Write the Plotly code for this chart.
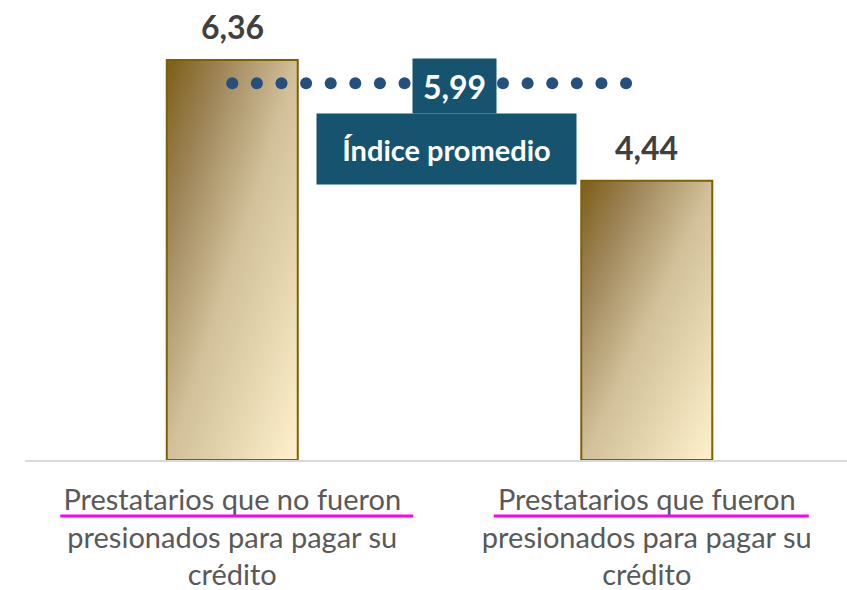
import numpy as np
import plotly.graph_objects as go

# --- data -------------------------------------------------------------
categories = [
    "Prestatarios que no fueron<br>presionados para pagar su<br>crédito",
    "Prestatarios que fueron<br>presionados para pagar su<br>crédito",
]
values = [6.36, 4.44]
average_value = 5.99
average_label = "Índice promedio"

# --- styling ----------------------------------------------------------
bar_width = 0.316
gold_scale = [[0.0, "#7c5e17"], [0.22, "#9f865a"], [0.5, "#d1c099"], [1.0, "#fff2cd"]]
edge_color = "#7f6000"
teal = "#15536f"
dot_color = "#254f7c"
label_font = "Lato"


def fmt(v):
    return f"{v:.2f}".replace(".", ",")


fig = go.Figure()

# gradient fill for each bar (dark top-left -> light bottom-right)
nx, ny = 16, 60
for i, v in enumerate(values):
    xe = np.linspace(i - bar_width / 2, i + bar_width / 2, nx + 1)
    ye = np.linspace(0, v, ny + 1)
    u = (np.arange(nx) + 0.5) / nx
    t = 1 - (np.arange(ny) + 0.5) / ny
    z = (u[None, :] + t[:, None]) / 2
    fig.add_trace(go.Heatmap(
        x=xe, y=ye, z=z, zmin=0, zmax=1, colorscale=gold_scale,
        showscale=False, zsmooth="best", hoverinfo="skip",
    ))

# bar outlines
fig.add_trace(go.Bar(
    x=list(range(len(values))), y=values, width=bar_width,
    marker=dict(color="rgba(0,0,0,0)", line=dict(color=edge_color, width=2)),
    hoverinfo="skip",
))

# dotted average line, from the first bar towards the second
n_dots = 17
dot_x = np.linspace(0, 0.95, n_dots)
fig.add_trace(go.Scatter(
    x=dot_x, y=[average_value] * n_dots, mode="markers",
    marker=dict(size=12, color=dot_color), hoverinfo="skip",
))

# value labels above the bars
for i, v in enumerate(values):
    fig.add_annotation(
        x=i, y=v, text=f"<b>{fmt(v)}</b>", showarrow=False,
        yanchor="bottom", yshift=12,
        font=dict(family=label_font, size=32, color="#404040"),
    )

# average value badge and caption
fig.add_annotation(
    x=0.537, y=average_value, text=f"<b>{fmt(average_value)}</b>",
    showarrow=False, yanchor="middle", yshift=-3,
    width=83, height=54, bgcolor=teal, borderpad=0,
    font=dict(family=label_font, size=32, color="white"),
)
fig.add_annotation(
    x=0.516, y=average_value, text=f"<b>{average_label}</b>",
    showarrow=False, yanchor="top", yshift=-30,
    width=259, height=70, bgcolor=teal, borderpad=0,
    font=dict(family=label_font, size=29, color="white"),
)

# magenta underline beneath the first line of each category label
underline_spans = [(-172, 181), (-153, 162)]
for i, (a, b) in enumerate(underline_spans):
    fig.add_shape(
        type="line", xref="x", yref="paper", xsizemode="pixel", xanchor=i,
        x0=a, x1=b, y0=-0.1215, y1=-0.1215,
        line=dict(color="#ff00ff", width=3),
    )

fig.update_layout(
    width=847, height=590,
    margin=dict(l=25, r=0, t=0, b=130, autoexpand=False),
    plot_bgcolor="white", paper_bgcolor="white",
    showlegend=False,
    xaxis=dict(
        range=[-0.5, 1.483], tickvals=[0, 1], ticktext=categories,
        showgrid=False, zeroline=False, showline=True, automargin=False,
        linecolor="#d9d9d9", linewidth=2, ticks="",
        tickfont=dict(family=label_font, size=29, color="#595959"),
        ticklabelstandoff=13,
    ),
    yaxis=dict(range=[0, 7.313], visible=False, showgrid=False),
)

fig.write_html("out.html")
